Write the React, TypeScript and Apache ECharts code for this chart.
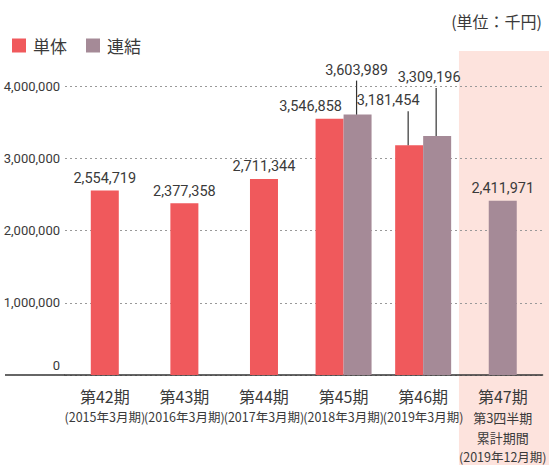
import React, { useEffect, useRef } from "react";
import * as echarts from "echarts";

const categories = ["第42期", "第43期", "第44期", "第45期", "第46期", "第47期"];
const subLabels = [
  ["(2015年3月期)"],
  ["(2016年3月期)"],
  ["(2017年3月期)"],
  ["(2018年3月期)"],
  ["(2019年3月期)"],
  ["第3四半期", "累計期間", "(2019年12月期)"],
];
const standalone: (number | null)[] = [2554719, 2377358, 2711344, 3546858, 3181454, null];
const consolidated: (number | null)[] = [null, null, null, 3603989, 3309196, 2411971];
const yTicks = { min: 0, max: 4000000, interval: 1000000 };
const unitText = "(単位：千円)";
const highlightIndex = 5;

const RED = "#F0595C";
const PURPLE = "#A58A97";
const BAND = "#FDE3DD";
const TEXT = "#3a3a3a";
const BAR_W = 28;
const NUM_FONT = "Roboto, 'Noto Sans CJK JP', sans-serif";
const JP_FONT = "'Noto Sans CJK JP', sans-serif";

// label shifts [dx, dy] for paired bars (style only)
const pairShift: Record<string, ([number, number] | null)[]> = {
  s: [null, null, null, [-19, 0], [-21, -32], null],
  c: [null, null, null, [-1, -32], [-8, -46], null],
};

const fmt = (v: number) => v.toLocaleString("en-US");

export default function App() {
  const ref = useRef<HTMLDivElement>(null);
  useEffect(() => {
    if (!ref.current) return;
    const chart = echarts.init(ref.current, null, { renderer: "svg" });
    const isPair = (i: number) => standalone[i] != null && consolidated[i] != null;
    const singleS = standalone.map((v, i) => (isPair(i) ? null : v));
    const singleC = consolidated.map((v, i) => (isPair(i) ? null : v));
    const pairS = standalone.map((v, i) => (isPair(i) ? v : null));
    const pairC = consolidated.map((v, i) => (isPair(i) ? v : null));

    const labelBase = {
      show: true,
      position: "top" as const,
      distance: 5,
      color: TEXT,
      fontSize: 14.5,
      fontFamily: NUM_FONT,
      formatter: (p: any) => fmt(p.value),
    };

    const pairData = (arr: (number | null)[], key: string) =>
      arr.map((v, i) => {
        if (v == null) return null;
        const sh = pairShift[key][i];
        return sh ? { value: v, label: { offset: sh } } : v;
      });

    const leaders: any[] = [];
    (["s", "c"] as const).forEach((key) => {
      const arr = key === "s" ? pairS : pairC;
      arr.forEach((v, i) => {
        const sh = pairShift[key][i];
        if (v != null && sh && sh[1] < 0) leaders.push({ value: [i, v], key, len: -sh[1] + 2 });
      });
    });

    const GRID_LEFT = 65;
    const option: any = {
      animation: false,
      title: {
        text: unitText,
        right: 2,
        top: 8,
        textStyle: { fontSize: 16, fontWeight: "normal", color: TEXT, fontFamily: JP_FONT },
      },
      legend: {
        data: ["単体", "連結"],
        left: 7,
        top: 32,
        itemWidth: 14,
        itemHeight: 14,
        itemGap: 19,
        icon: "rect",
        textStyle: { fontSize: 17, color: TEXT, fontFamily: JP_FONT, padding: [0, 0, 0, 2] },
      },
      grid: { left: GRID_LEFT, right: 0, top: 86, bottom: 90, containLabel: false },
      xAxis: [
        {
          type: "category",
          data: categories,
          axisTick: { show: false },
          axisLine: { lineStyle: { color: "#333", width: 1.5 } },
          axisLabel: {
            interval: 0,
            margin: 10,
            formatter: (v: string, i: number) => {
              const subs = subLabels[i] || [];
              const lines = [`{a|${v}}`];
              subs.forEach((s, k) => {
                const last = k === subs.length - 1;
                lines.push(last ? `{b|${s}}` : `{c|${s}}`);
              });
              return lines.join("\n");
            },
            rich: {
              a: { fontSize: 16, lineHeight: 22, color: TEXT, fontFamily: JP_FONT },
              b: { fontSize: 12.5, lineHeight: 18, color: TEXT, fontFamily: JP_FONT },
              c: { fontSize: 13, lineHeight: 20, color: TEXT, fontFamily: JP_FONT },
            },
          },
        },
        { type: "category", data: categories, show: false },
      ],
      yAxis: {
        type: "value",
        min: yTicks.min,
        max: yTicks.max,
        interval: yTicks.interval,
        axisLine: { show: false },
        axisTick: { show: false },
        splitLine: { lineStyle: { type: [2, 3], color: "#999", width: 1 } },
        axisLabel: {
          margin: 5,
          color: TEXT,
          fontSize: 13,
          fontFamily: NUM_FONT,
          formatter: (v: number) => (v === 0 ? "{z|0}" : fmt(v)),
          rich: { z: { fontSize: 13, fontFamily: NUM_FONT, color: TEXT, padding: [0, 0, 19, 0] } },
        },
      },
      series: [
        {
          name: "単体",
          type: "bar",
          xAxisIndex: 0,
          data: singleS,
          barWidth: BAR_W,
          barGap: "-100%",
          itemStyle: { color: RED },
          label: labelBase,
        },
        {
          name: "連結",
          type: "bar",
          xAxisIndex: 0,
          data: singleC,
          barWidth: BAR_W,
          barGap: "-100%",
          itemStyle: { color: PURPLE },
          label: labelBase,
        },
        {
          name: "単体",
          type: "bar",
          xAxisIndex: 1,
          data: pairData(pairS, "s"),
          barWidth: BAR_W,
          barGap: 0,
          itemStyle: { color: RED },
          label: labelBase,
        },
        {
          name: "連結",
          type: "bar",
          xAxisIndex: 1,
          data: pairData(pairC, "c"),
          barWidth: BAR_W,
          barGap: 0,
          itemStyle: { color: PURPLE },
          label: labelBase,
        },
        {
          name: "leaders",
          type: "custom",
          xAxisIndex: 1,
          silent: true,
          z: 5,
          data: leaders.map((l) => l.value),
          renderItem: (params: any, api: any) => {
            const l = leaders[params.dataIndex];
            const p = api.coord([api.value(0), api.value(1)]);
            const side = l.key === "s" ? -1 : 1;
            const x = p[0] + (side * BAR_W) / 2 - 1;
            return {
              type: "line",
              shape: { x1: x, y1: p[1], x2: x, y2: p[1] - l.len },
              style: { stroke: "#333", lineWidth: 1.2 },
            };
          },
        },
      ],
    };
    chart.setOption(option);

    const y0 = chart.convertToPixel({ yAxisIndex: 0 }, 0) as number;
    const cx = chart.convertToPixel({ xAxisIndex: 0 }, highlightIndex) as number;
    const cx0 = chart.convertToPixel({ xAxisIndex: 0 }, 0) as number;
    const cx1 = chart.convertToPixel({ xAxisIndex: 0 }, 1) as number;
    const band = cx1 - cx0;
    const bandX = cx - band / 2 - 4;
    chart.setOption({
      graphic: [
        {
          type: "rect",
          z: -10,
          silent: true,
          shape: { x: bandX, y: 51, width: 549 - bandX, height: 465 - 51 },
          style: { fill: BAND },
        },
        {
          type: "line",
          z: 10,
          silent: true,
          shape: { x1: 5, y1: y0, x2: GRID_LEFT, y2: y0 },
          style: { stroke: "#333", lineWidth: 1.5 },
        },
      ],
    });
    return () => chart.dispose();
  }, []);
  return <div ref={ref} style={{ width: 549, height: 465, position: "absolute", left: 0, top: 0 }} />;
}
